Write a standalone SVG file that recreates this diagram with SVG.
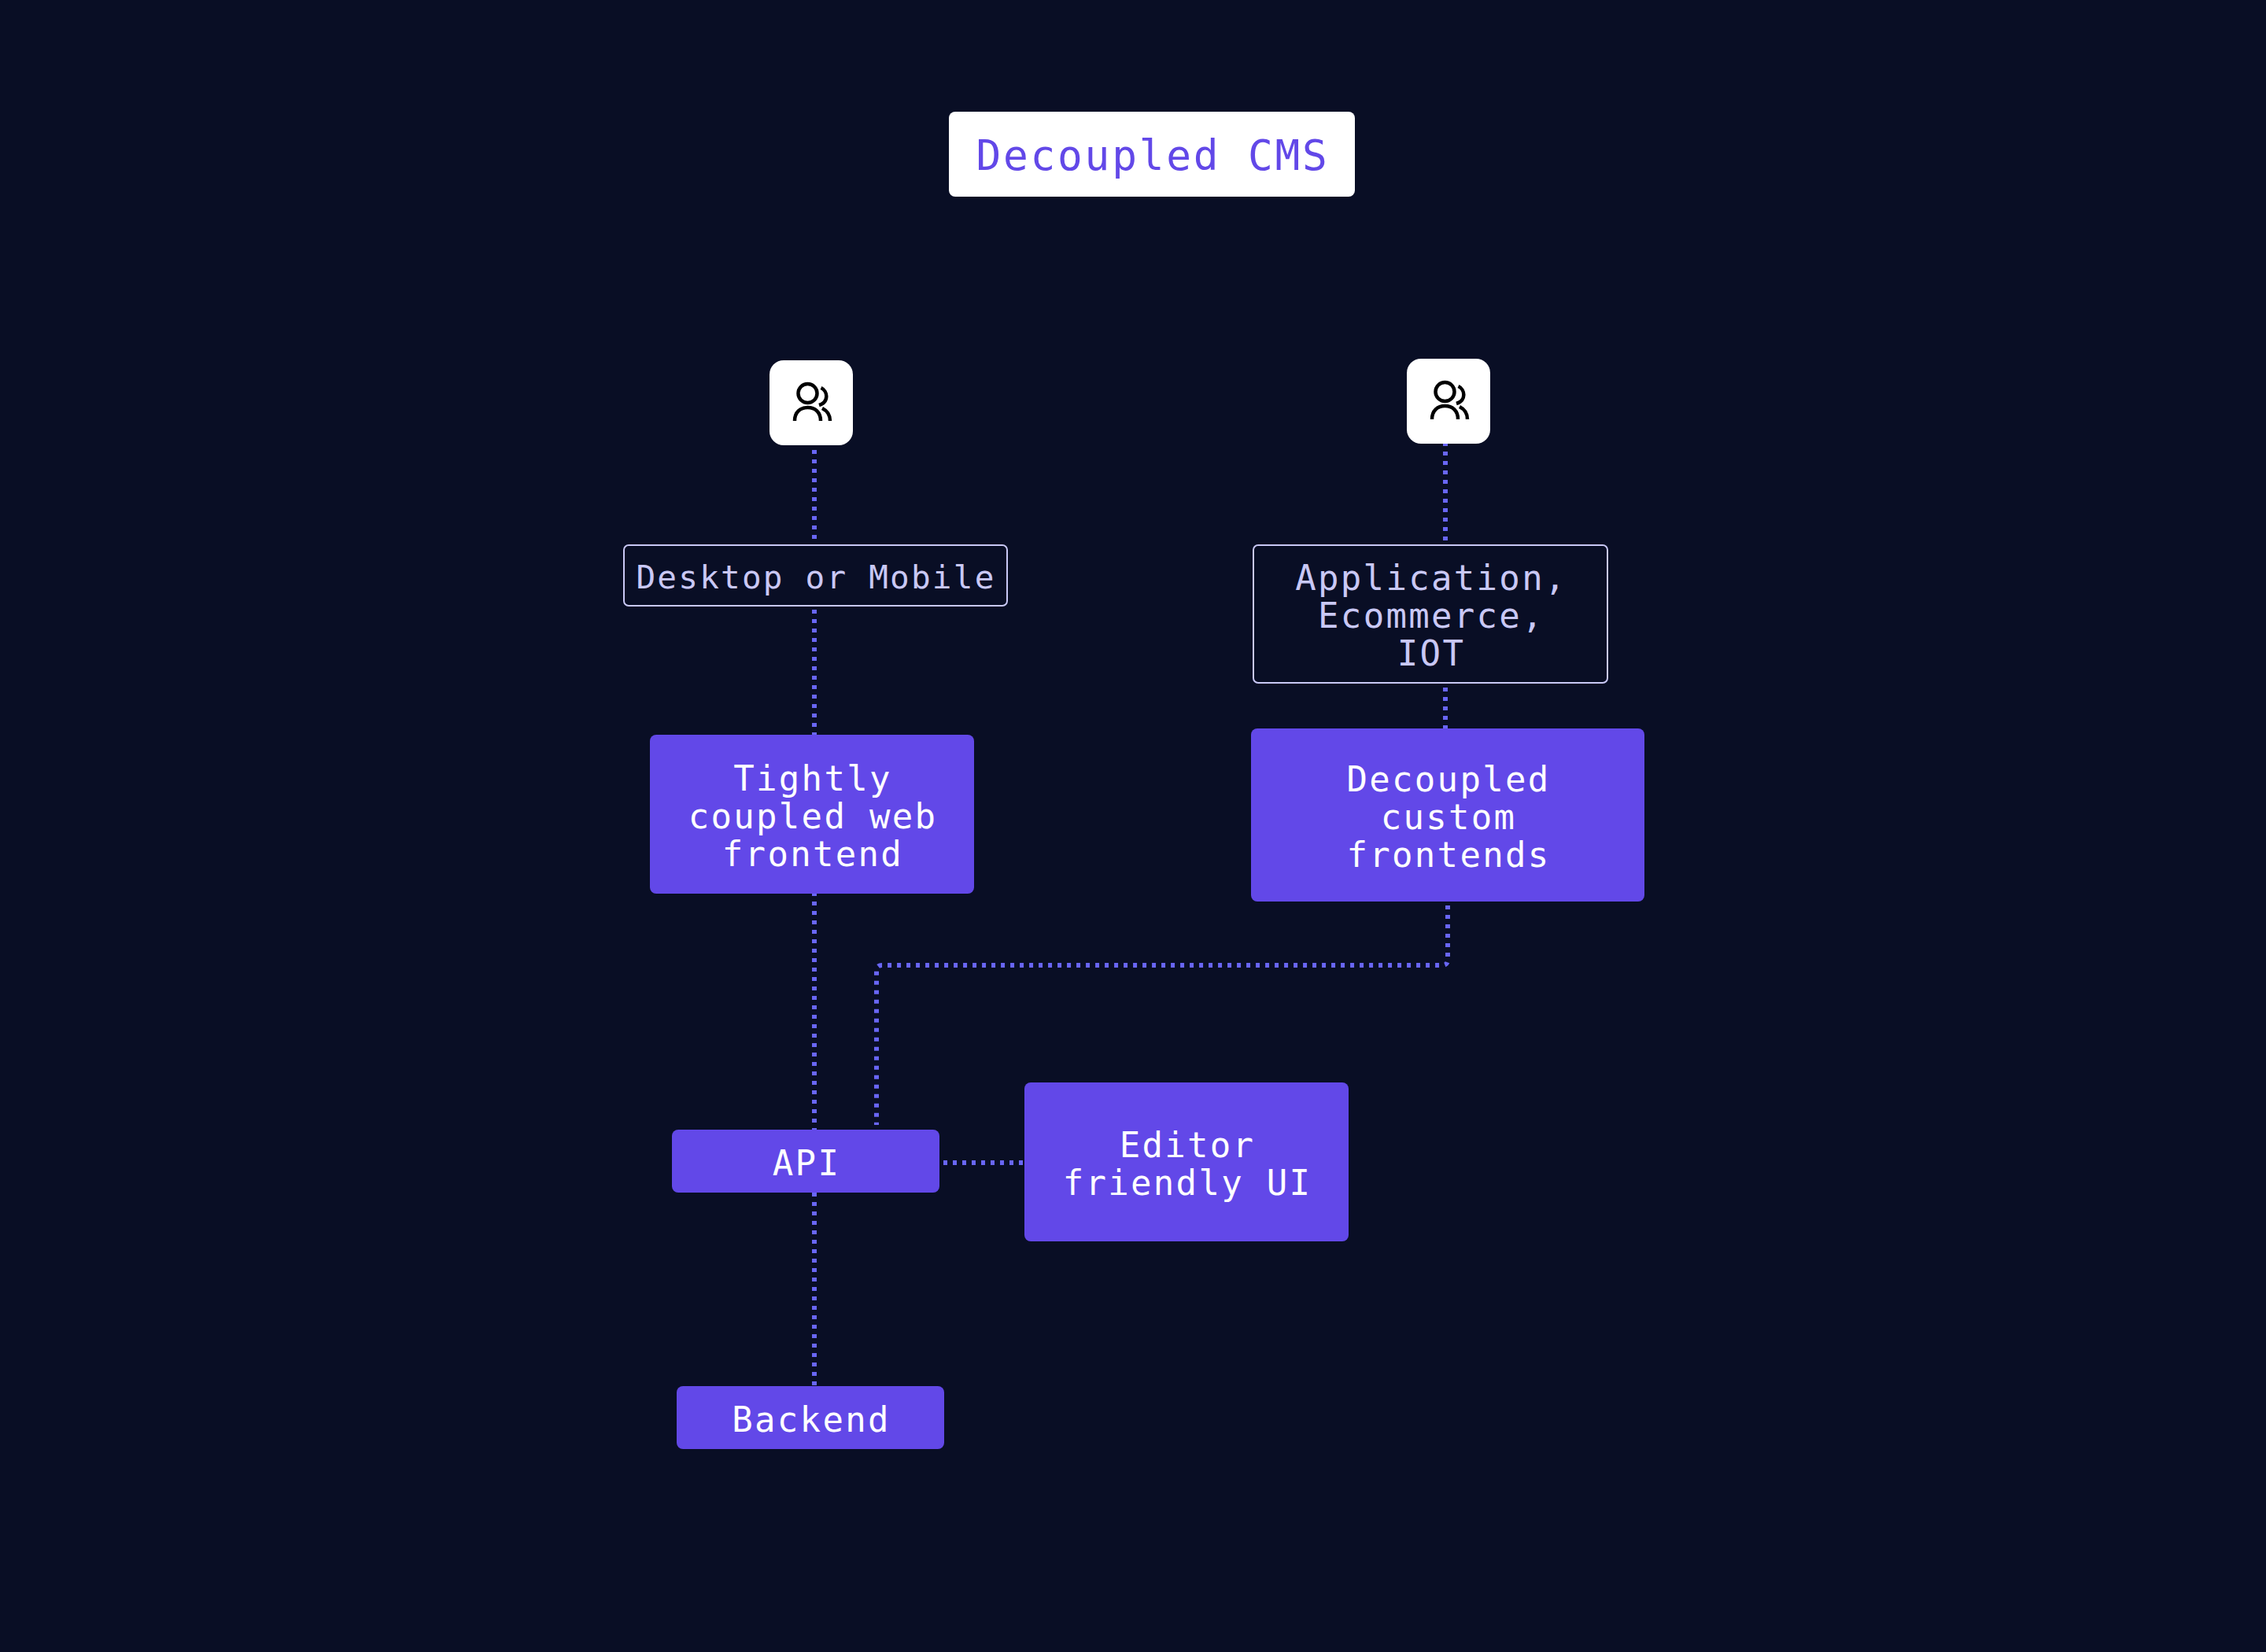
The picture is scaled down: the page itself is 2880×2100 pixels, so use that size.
<svg xmlns="http://www.w3.org/2000/svg" width="2880" height="2100" viewBox="0 0 2880 2100">
<style>
text{font-family:"DejaVu Sans Mono","Liberation Mono",monospace;text-anchor:middle;font-size:44px;letter-spacing:2.3px}
.p{fill:#6248e8}
.t{fill:#fff}
.o{fill:#090e25;stroke:#c9c8f5;stroke-width:2}
.l{fill:#c9c8f5}
.c{fill:none;stroke:#6966f5;stroke-width:6;stroke-dasharray:5 7}
.i{fill:none;stroke:#000;stroke-width:4.5}
</style>
<defs><g id="users">
<circle cx="1026.5" cy="500" r="12"/>
<path d="M1010 535C1010 524 1017 518 1026.5 518S1043 524 1043 535"/>
<path d="M1043.5 493C1052 497 1054 511 1041 515"/>
<path d="M1045 519C1051 522 1055 528 1055 535"/>
</g></defs>
<rect width="2880" height="2100" fill="#090e25"/>
<g id="connectors" class="c">
<path d="M1035 572V692"/><path d="M1035 775V934"/><path d="M1035 1134V1436"/><path d="M1035 1516V1762"/>
<path d="M1837 562V692"/><path d="M1837 874V926"/>
<path d="M1840 1151V1220Q1840 1227 1833 1227H1121Q1114 1227 1114 1234V1430"/>
<path d="M1199 1478H1300"/>
</g>
<g id="title"><rect x="1206" y="142" width="516" height="108" rx="8" fill="#fff"/><text x="1465" y="216" style="font-size:52.8px;letter-spacing:2.77px;fill:#6248e8">Decoupled CMS</text></g>
<g id="user-left"><rect x="978" y="458" width="106" height="108" rx="18" fill="#fff"/><use href="#users" class="i"/></g>
<g id="user-right"><rect x="1788" y="456" width="106" height="108" rx="18" fill="#fff"/><use href="#users" class="i" transform="translate(810 -2)"/></g>
<g id="desktop"><rect class="o" x="793" y="693" width="487" height="77" rx="6"/><text class="l" x="1037" y="748" style="font-size:41px;letter-spacing:2.2px">Desktop or Mobile</text></g>
<g id="apps"><rect class="o" x="1593" y="693" width="450" height="175" rx="6"/><text class="l" x="1819" y="750">Application,</text><text class="l" x="1819" y="798">Ecommerce,</text><text class="l" x="1819" y="846">IOT</text></g>
<g id="tight"><rect class="p" x="826" y="934" width="412" height="202" rx="8"/><text class="t" x="1033" y="1005">Tightly</text><text class="t" x="1033" y="1053">coupled web</text><text class="t" x="1033" y="1101">frontend</text></g>
<g id="decoupled"><rect class="p" x="1590" y="926" width="500" height="220" rx="8"/><text class="t" x="1841" y="1006">Decoupled</text><text class="t" x="1841" y="1054">custom</text><text class="t" x="1841" y="1102">frontends</text></g>
<g id="api"><rect class="p" x="854" y="1436" width="340" height="80" rx="8"/><text class="t" x="1025" y="1494">API</text></g>
<g id="editor"><rect class="p" x="1302" y="1376" width="412" height="202" rx="8"/><text class="t" x="1509" y="1471">Editor</text><text class="t" x="1509" y="1519">friendly UI</text></g>
<g id="backend"><rect class="p" x="860" y="1762" width="340" height="80" rx="8"/><text class="t" x="1031" y="1820">Backend</text></g>
</svg>
